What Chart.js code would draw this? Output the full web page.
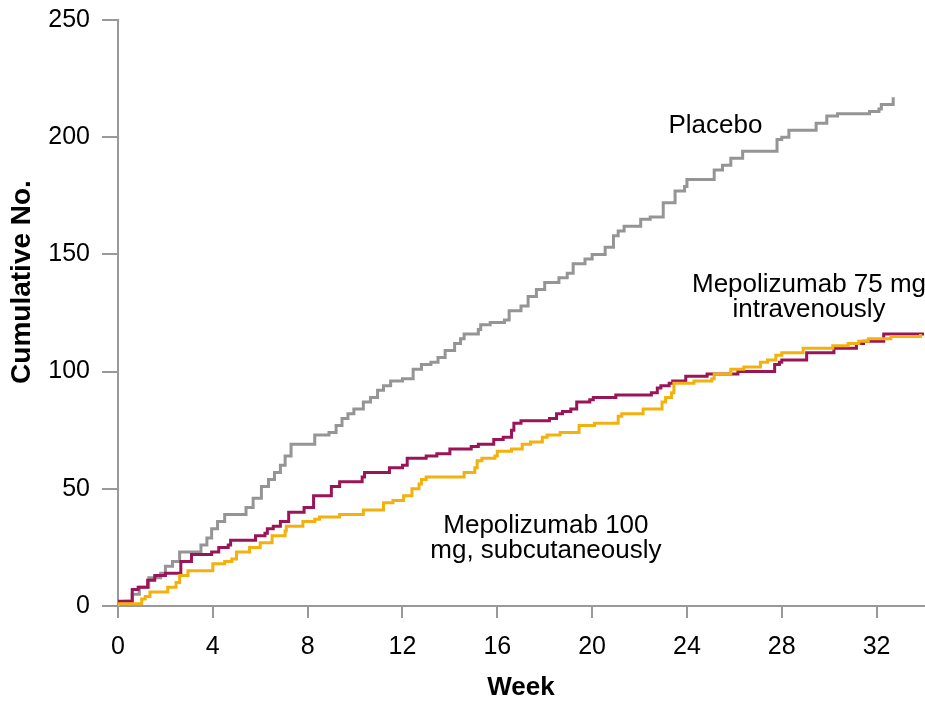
<!DOCTYPE html>
<html>
<head>
<meta charset="utf-8">
<script src="https://cdn.jsdelivr.net/npm/chart.js@4/dist/chart.umd.min.js"></script>
<style>
  html, body { margin: 0; padding: 0; background: #fff; }
  #wrap { width: 925px; height: 701px; position: relative; }
</style>
</head>
<body>
<div id="wrap"><canvas id="eventsChart"></canvas></div>
<script>
// Cumulative exacerbations by week
const placeboWeeks = [0, 0.3, 0.6, 0.9, 1.3, 1.8, 2.0, 2.3, 2.6, 3.5, 3.75, 3.95, 4.2, 4.5, 5.4, 5.7, 6.05, 6.35, 6.6, 6.85,
  7.05, 7.3, 8.3, 8.9, 9.2, 9.45, 9.7, 9.95, 10.35, 10.65, 10.95, 11.2, 11.5, 12.0, 12.45, 12.8, 13.2, 13.5, 13.8, 14.2,
  14.45, 14.6, 15.2, 15.3, 15.7, 16.3, 16.5, 17.0, 17.3, 17.65, 18.0, 18.6, 18.95, 19.2, 19.7, 20.0, 20.55, 20.9, 21.1, 21.35,
  22.05, 22.45, 23.0, 23.5, 23.9, 24.0, 25.15, 25.5, 25.85, 26.35, 27.8, 28.0, 28.3, 29.45, 29.9, 30.35, 31.7, 32.1, 32.2, 32.7];
const placeboCounts = [0, 2, 5, 8, 12, 14, 17, 19, 23, 26, 29, 33, 36, 39, 42, 46, 51, 54, 57, 60,
  64, 69, 73, 74, 77, 80, 82, 84, 87, 89, 92, 94, 96, 97, 101, 103, 104, 106, 109, 112,
  114, 116, 118, 120, 121, 122, 126, 128, 132, 135, 138, 140, 142, 146, 148, 150, 153, 158, 160, 162,
  165, 166, 172, 177, 179, 182, 186, 188, 191, 194, 199, 200, 203, 206, 209, 210, 211, 212, 214, 217];

const ivWeeks = [0, 0.05, 0.6, 0.85, 1.25, 1.55, 2.0, 2.65, 3.1, 3.95, 4.25, 4.65, 4.75, 5.8, 6.2, 6.3, 6.55, 6.85, 7.2, 7.85,
  8.25, 9.0, 9.35, 10.3, 10.4, 11.45, 12.0, 12.2, 13.0, 13.45, 14.0, 14.9, 15.2, 15.85, 16.25, 16.6, 16.7, 17.0, 18.2, 18.5,
  18.75, 19.1, 19.35, 19.9, 20.05, 21.0, 22.5, 22.75, 22.9, 23.25, 23.4, 23.95, 24.85, 26.15, 27.7, 27.9, 28.0, 29.05, 30.2, 31.15,
  31.45, 32.3, 34];
const ivCounts = [0, 2, 7, 8, 11, 13, 14, 19, 22, 23, 25, 26, 28, 30, 31, 33, 34, 36, 40, 42,
  47, 51, 53, 55, 57, 59, 60, 63, 64, 65, 67, 68, 69, 71, 72, 75, 78, 79, 80, 82,
  83, 84, 87, 88, 89, 90, 91, 93, 94, 95, 96, 98, 99, 100, 103, 104, 105, 108, 110, 112,
  113, 116, 116];

const scWeeks = [0, 0.05, 1.0, 1.15, 1.35, 2.1, 2.45, 2.6, 2.95, 4.0, 4.5, 4.8, 5.0, 5.55, 6.0, 6.5, 7.05, 7.1, 7.8, 8.3,
  8.5, 9.35, 10.35, 11.2, 11.6, 12.05, 12.4, 12.7, 12.8, 13.0, 14.6, 15.05, 15.15, 15.35, 15.9, 16.0, 16.6, 17.05, 17.4, 17.9,
  18.1, 18.65, 19.45, 20.1, 21.1, 21.25, 22.15, 22.95, 23.1, 23.35, 23.45, 24.3, 25.05, 25.15, 25.85, 26.4, 27.1, 27.4, 27.75, 28.0,
  28.9, 30.15, 30.8, 31.25, 31.65, 32.6, 33.85];
const scCounts = [0, 1, 3, 4, 6, 8, 10, 13, 15, 18, 19, 20, 23, 25, 27, 30, 32, 34, 36, 37,
  38, 39, 41, 44, 45, 47, 50, 52, 54, 55, 57, 59, 62, 63, 64, 66, 67, 69, 70, 72,
  73, 74, 77, 78, 81, 82, 84, 87, 89, 91, 95, 96, 97, 99, 101, 102, 104, 105, 107, 108,
  110, 111, 112, 113, 114, 115, 116];

const weekTicks = [0, 4, 8, 12, 16, 20, 24, 28, 32];
const countTicks = [0, 50, 100, 150, 200, 250];

// curve labels, anchored in data units (baseline of first line)
const curveLabels = [
  { lines: ["Placebo"], week: 25.2, count: 202 },
  { lines: ["Mepolizumab 75 mg", "intravenously"], week: 29.15, count: 134 },
  { lines: ["Mepolizumab 100", "mg, subcutaneously"], week: 18.05, count: 31.3 }
];

const FONT = '"Liberation Sans", Arial, Helvetica, sans-serif';
const AXIS_GREY = "#999999";

function toPoints(xs, ys) {
  return xs.map((x, i) => ({ x: x, y: ys[i] }));
}

// draws curve labels and the rotated y title
const textOverlay = {
  id: "textOverlay",
  afterDraw(chart) {
    const { ctx } = chart;
    const xs = chart.scales.x;
    const ys = chart.scales.y;
    ctx.save();
    ctx.fillStyle = "#000";
    ctx.font = "26px " + FONT;
    ctx.textAlign = "center";
    ctx.textBaseline = "alphabetic";
    curveLabels.forEach((lbl) => {
      const px = xs.getPixelForValue(lbl.week);
      const py = ys.getPixelForValue(lbl.count);
      lbl.lines.forEach((line, i) => ctx.fillText(line, px, py + i * 25));
    });

    ctx.font = "bold 28px " + FONT;
    ctx.textBaseline = "middle";
    ctx.translate(22, 282);
    ctx.rotate(-Math.PI / 2);
    ctx.fillText("Cumulative No.", 0, 0);
    ctx.restore();
  }
};

function initEventsChart() {
  const ctx = document.getElementById("eventsChart");
  if (!ctx) return;

  // horizontal at the old count, then vertical at the event week
  const lineStyle = {
    stepped: "before",
    borderWidth: 3,
    pointRadius: 0,
    pointHoverRadius: 0,
    fill: false,
    tension: 0
  };

  new Chart(ctx, {
    type: "line",
    data: {
      datasets: [
        Object.assign({ label: "Mepolizumab 100 mg SC", data: toPoints(scWeeks, scCounts), borderColor: "#F2B10D", order: 0 }, lineStyle),
        Object.assign({ label: "Mepolizumab 75 mg IV", data: toPoints(ivWeeks, ivCounts), borderColor: "#9A1558", order: 1 }, lineStyle),
        Object.assign({ label: "Placebo", data: toPoints(placeboWeeks, placeboCounts), borderColor: "#959595", order: 2 }, lineStyle)
      ]
    },
    options: {
      responsive: true,
      maintainAspectRatio: false,
      animation: false,
      events: [],
      layout: { padding: { top: 20, right: 1, bottom: 0, left: 0 } },
      plugins: { legend: { display: false }, tooltip: { enabled: false } },
      scales: {
        x: {
          type: "linear",
          min: 0,
          max: 34,
          afterBuildTicks: (s) => { s.ticks = weekTicks.map((v) => ({ value: v })); },
          afterFit: (s) => { s.height = 95; s.paddingLeft = 0; s.paddingRight = 0; },
          border: { color: AXIS_GREY, width: 2 },
          grid: { drawOnChartArea: false, drawTicks: true, tickLength: 12, color: AXIS_GREY, lineWidth: 2 },
          ticks: { color: "#000", padding: 14, maxRotation: 0, font: { family: FONT, size: 25 } },
          title: {
            display: true,
            text: "Week",
            color: "#000",
            padding: { top: 0, bottom: 0 },
            font: { family: FONT, size: 26, weight: "bold", lineHeight: 1 }
          }
        },
        y: {
          min: 0,
          max: 250,
          afterBuildTicks: (s) => { s.ticks = countTicks.map((v) => ({ value: v })); },
          afterFit: (s) => { s.width = 118; s.paddingTop = 0; s.paddingBottom = 0; },
          border: { color: AXIS_GREY, width: 2 },
          grid: { drawOnChartArea: false, drawTicks: true, tickLength: 16, color: AXIS_GREY, lineWidth: 2 },
          ticks: { color: "#000", padding: 12, font: { family: FONT, size: 25 } }
        }
      }
    },
    plugins: [textOverlay]
  });
}

document.addEventListener("DOMContentLoaded", function () {
  initEventsChart();
});
</script>
</body>
</html>
